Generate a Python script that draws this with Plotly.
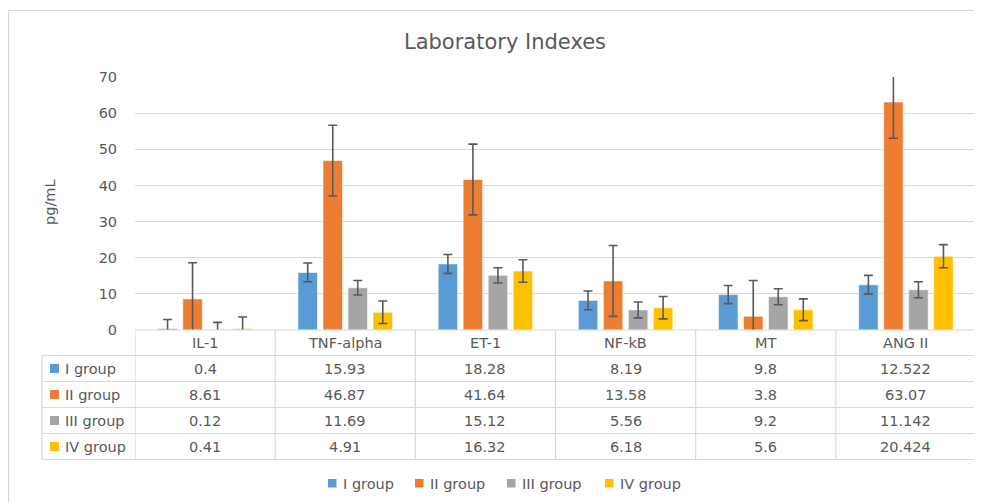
import plotly.graph_objects as go

categories = ["IL-1", "TNF-alpha", "ET-1", "NF-kB", "MT", "ANG II"]
series_names = ["I group", "II group", "III group", "IV group"]
group_I = [0.4, 15.93, 18.28, 8.19, 9.8, 12.522]
group_II = [8.61, 46.87, 41.64, 13.58, 3.8, 63.07]
group_III = [0.12, 11.69, 15.12, 5.56, 9.2, 11.142]
group_IV = [0.41, 4.91, 16.32, 6.18, 5.6, 20.424]
err_I = [2.5, 2.6, 2.6, 2.6, 2.5, 2.6]
err_II = [10.0, 9.8, 9.8, 9.8, 9.9, 10.0]
err_III = [2.0, 2.0, 2.1, 2.2, 2.2, 2.2]
err_IV = [3.2, 3.1, 3.1, 3.1, 3.0, 3.2]
y_ticks = [0, 10, 20, 30, 40, 50, 60, 70]

series_values = [group_I, group_II, group_III, group_IV]
series_errors = [err_I, err_II, err_III, err_IV]
colors = ["#5B9BD5", "#ED7D31", "#A5A5A5", "#FFC000"]

# page has an 8px body margin; work in page coordinates and offset
OFF = 8
W, H = 982 - OFF, 502 - OFF
L, R, T, B = 135, 976, 77, 330  # plot area in page coordinates
FONT = "DejaVu Sans"
TXT = "#595959"
GRID = "#D9D9D9"
FS = 14.5


def px(x):
    return (x - L) / (R - L)


def py(y):
    return (B - y) / (B - T)


fig = go.Figure()
for name, vals, errs, col in zip(series_names, series_values, series_errors, colors):
    fig.add_trace(go.Bar(
        name=name, x=categories, y=vals,
        marker=dict(color=col, line=dict(color="rgba(255,255,255,0.6)", width=1)),
        error_y=dict(type="data", array=errs, visible=True, color="#595959",
                     thickness=1.6, width=4.5),
        showlegend=False,
    ))

shapes = []
annotations = []

# outer chart border (right/bottom edges fall outside the picture)
shapes.append(dict(type="rect", xref="paper", yref="paper",
                   x0=px(8.5), x1=px(1010), y0=py(530), y1=py(10.5),
                   line=dict(color=GRID, width=1.2), fillcolor="rgba(0,0,0,0)", layer="below"))

# data table
row_edges = [330, 355.5, 381.5, 407.5, 433.5, 459.5]
line_style = dict(color=GRID, width=1.2)
shapes.append(dict(type="line", xref="paper", yref="paper", x0=px(L), x1=px(R),
                   y0=py(row_edges[0]), y1=py(row_edges[0]), line=line_style))
for ye in row_edges[1:]:
    shapes.append(dict(type="line", xref="paper", yref="paper", x0=px(42), x1=px(R),
                       y0=py(ye), y1=py(ye), line=line_style))
shapes.append(dict(type="line", xref="paper", yref="paper", x0=px(42), x1=px(42),
                   y0=py(row_edges[1]), y1=py(row_edges[-1]), line=line_style))
for i in range(len(categories) + 1):
    shapes.append(dict(type="line", xref="x", yref="paper", x0=i - 0.5, x1=i - 0.5,
                       y0=py(row_edges[0]), y1=py(row_edges[-1]), line=line_style))

for i, c in enumerate(categories):
    annotations.append(dict(x=i, y=py((row_edges[0] + row_edges[1]) / 2), xref="x", yref="paper",
                            text=c, showarrow=False, font=dict(family=FONT, size=FS, color=TXT),
                            xanchor="center", yanchor="middle"))
for r, (name, vals, col) in enumerate(zip(series_names, series_values, colors)):
    yc = (row_edges[r + 1] + row_edges[r + 2]) / 2
    shapes.append(dict(type="rect", xref="paper", yref="paper",
                       x0=px(50), x1=px(59), y0=py(yc + 4.5), y1=py(yc - 4.5),
                       fillcolor=col, line=dict(width=0)))
    annotations.append(dict(x=px(63), y=py(yc), xref="paper", yref="paper", text=name,
                            showarrow=False, font=dict(family=FONT, size=FS, color=TXT),
                            xanchor="left", yanchor="middle"))
    for i, v in enumerate(vals):
        annotations.append(dict(x=i, y=py(yc), xref="x", yref="paper", text=str(v),
                                showarrow=False, font=dict(family=FONT, size=FS, color=TXT),
                                xanchor="center", yanchor="middle"))

# bottom legend
leg_x = [328, 415, 507, 605]
for name, col, lx in zip(series_names, colors, leg_x):
    shapes.append(dict(type="rect", xref="paper", yref="paper",
                       x0=px(lx), x1=px(lx + 8.5), y0=py(487.5), y1=py(479),
                       fillcolor=col, line=dict(width=0)))
    annotations.append(dict(x=px(lx + 13), y=py(483.5), xref="paper", yref="paper", text=name,
                            showarrow=False, font=dict(family=FONT, size=FS, color=TXT),
                            xanchor="left", yanchor="middle"))

annotations.append(dict(x=px(50), y=py(202), xref="paper", yref="paper", text="pg/mL",
                        textangle=-90, showarrow=False,
                        font=dict(family=FONT, size=FS, color=TXT),
                        xanchor="center", yanchor="middle"))

fig.update_layout(
    width=W, height=H,
    margin=dict(l=L - OFF, r=W - (R - OFF), t=T - OFF, b=H - (B - OFF), pad=0),
    paper_bgcolor="white", plot_bgcolor="white",
    title=dict(text="Laboratory Indexes", xref="container", yref="container",
               x=(505 - OFF) / W, xanchor="center", y=1 - (42 - OFF) / H,
               yanchor="middle", font=dict(family=FONT, size=21, color=TXT)),
    barmode="group", bargap=0.286, bargroupgap=0.22,
    xaxis=dict(range=[-0.5, len(categories) - 0.5], showticklabels=False, showgrid=False,
               zeroline=False, showline=False, ticks=""),
    yaxis=dict(range=[0, 70], tickvals=y_ticks, showgrid=True, gridcolor=GRID, gridwidth=1.2,
               zeroline=False, showline=False, ticks="outside", ticklen=14, tickcolor="white",
               tickfont=dict(family=FONT, size=FS, color=TXT)),
    shapes=shapes, annotations=annotations,
    font=dict(family=FONT, color=TXT),
)

fig.write_html("out.html")
